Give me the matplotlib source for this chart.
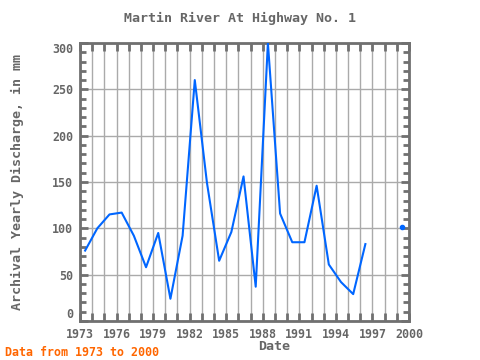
import numpy as np
import matplotlib
matplotlib.use("Agg")
import matplotlib.pyplot as plt
from matplotlib.ticker import MultipleLocator

years = [1973, 1974, 1975, 1976, 1977, 1978, 1979, 1980, 1981, 1982, 1983, 1984,
         1985, 1986, 1987, 1988, 1989, 1990, 1991, 1992, 1993, 1994, 1995, 1996,
         1997, 1998, 1999]
discharge = [76, 100, 115, 117, 92, 58, 95, 24, 92, 260, 149, 65,
             96, 156, 37, 300, 116, 85, 85, 146, 61, 42, 29, 83,
             np.nan, np.nan, 101]
x_ticks = [1973, 1976, 1979, 1982, 1985, 1988, 1991, 1994, 1997, 2000]
y_ticks = [0, 50, 100, 150, 200, 250, 300]

title = "Martin River At Highway No. 1"
ylabel = "Archival Yearly Discharge, in mm"
xlabel = "Date"
note = "Data from 1973 to 2000"

mono = "DejaVu Sans Mono"
gray = "#666666"
line_c = "#0066ff"

fig = plt.figure(figsize=(4.8, 3.6), dpi=100)
ax = fig.add_axes([80/480, 1-321/360, 329/480, 278/360])

x = np.array(years, dtype=float) + 0.42
y = np.array(discharge, dtype=float)
ax.plot(x, y, color=line_c, lw=1.5, zorder=3)
# isolated points
for i in range(len(y)):
    if np.isnan(y[i]):
        continue
    prev_nan = i == 0 or np.isnan(y[i-1])
    next_nan = i == len(y)-1 or np.isnan(y[i+1])
    if prev_nan and next_nan:
        ax.plot([x[i]], [y[i]], 'o', color=line_c, ms=3, zorder=3)

ax.set_xlim(1973, 2000)
ax.set_ylim(0, 300)
ax.set_xticks(x_ticks)
ax.set_yticks(y_ticks)
ax.xaxis.set_minor_locator(MultipleLocator(1))
ax.yaxis.set_minor_locator(MultipleLocator(10))
ax.grid(True, which='major', axis='y', color='#aaaaaa', lw=1)
ax.grid(True, which='both', axis='x', color='#aaaaaa', lw=1)
ax.set_axisbelow(True)

for s in ax.spines.values():
    s.set_color('#707070')
    s.set_linewidth(2)

ax.tick_params(axis='both', which='both', direction='in', top=True, right=True,
               color='#707070', width=2)
ax.tick_params(axis='x', which='both', length=6)
ax.tick_params(axis='y', which='major', length=6)
ax.tick_params(axis='y', which='minor', length=4)
ax.tick_params(labelsize=8.4, labelcolor=gray)
ax.tick_params(axis='x', pad=5)
ax.tick_params(axis='y', pad=5)
for lab in ax.get_xticklabels() + ax.get_yticklabels():
    lab.set_family(mono)
    lab.set_weight('bold')
ylabs = ax.get_yticklabels()
ylabs[0].set_va('bottom')
ylabs[-1].set_va('top')

fig.text(0.5, 1-18/360, title, ha='center', va='center', fontsize=9.6,
         family=mono, color=gray, weight='bold')
fig.text(17/480, 1-182/360, ylabel, ha='center', va='center', rotation=90,
         fontsize=9.6, family=mono, color=gray, weight='bold')
fig.text(274/480, 1-347/360, xlabel, ha='center', va='center', fontsize=9.6,
         family=mono, color=gray, weight='bold')
fig.text(5/480, 1-352/360, note, ha='left', va='center', fontsize=8.4,
         family=mono, color='#ff6600', weight='bold')

fig.savefig("out.png", dpi=100)
